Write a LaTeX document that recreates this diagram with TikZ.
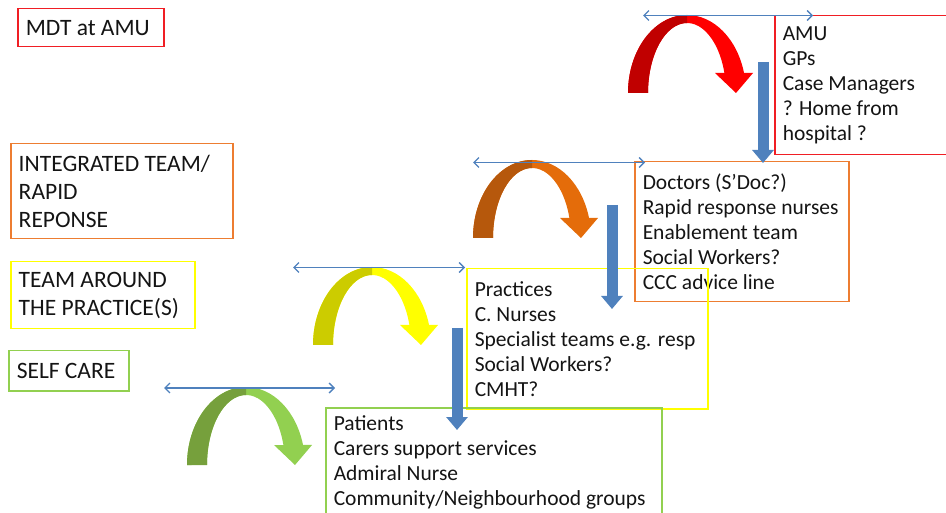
\documentclass[tikz,border=0pt]{standalone}
\usepackage{fontspec}
\setmainfont{Carlito}
\usetikzlibrary{arrows.meta}
\definecolor{tierred}{RGB}{240,30,36}
\definecolor{tierorange}{RGB}{237,125,49}
\definecolor{tieryellow}{RGB}{255,255,0}
\definecolor{tiergreen}{RGB}{146,208,80}
\definecolor{swoopred}{RGB}{192,0,0}
\definecolor{swoopredlt}{RGB}{255,0,0}
\definecolor{swooporange}{RGB}{182,88,12}
\definecolor{swooporangelt}{RGB}{228,108,10}
\definecolor{swoopyellow}{RGB}{204,204,0}
\definecolor{swoopyellowlt}{RGB}{255,255,0}
\definecolor{swoopgreen}{RGB}{118,160,60}
\definecolor{swoopgreenlt}{RGB}{146,208,80}
\definecolor{linkblue}{RGB}{79,129,189}

\begin{document}
\begin{tikzpicture}[
  x=1pt, y=-1pt,
  tier/.style={draw, line width=1.5pt, anchor=north west, align=flush left,
               inner xsep=8pt, inner ysep=0pt, text=black!92,
               font=\fontsize{23.5}{28}\selectfont},
  crew/.style={tier, font=\fontsize{21.5}{25}\selectfont},
  span/.style={{Straight Barb[length=5pt,width=10pt]}-{Straight Barb[length=5pt,width=10pt]},
               line width=1.4pt, linkblue},
  drop/.style={-{Triangle[length=13pt,width=21pt]}, line width=11pt, linkblue},
  pics/swoop/.style 2 args={code={
    % whole arch with its head, then the rising half in the darker tone
    \fill[#2] (0,0) arc[start angle=180, end angle=345.1, x radius=59, y radius=78]
      -- (125,-20) -- (108,0) -- (87,-20) -- (96.4,-20)
      arc[start angle=343.4, end angle=180, x radius=39, y radius=70] -- cycle;
    \fill[#1] (0,0) arc[start angle=180, end angle=270, x radius=59, y radius=78]
      -- (59,-70) arc[start angle=270, end angle=180, x radius=39, y radius=70] -- cycle;
  }}
]
\clip (0,0) rectangle (946,513);

% level titles
\node[tier, draw=tierred,    text width=130pt, minimum height=38pt] (mdt)   at (17,8)   {MDT at AMU};
\node[tier, draw=tierorange, text width=206pt, minimum height=95pt] (integ) at (10,143)  {INTEGRATED TEAM/\\RAPID\\REPONSE};
\node[tier, draw=tieryellow, text width=168pt, minimum height=67pt] (tap)   at (10,261)  {TEAM AROUND\\THE PRACTICE(S)};
\node[tier, draw=tiergreen,  text width=104pt, minimum height=40pt] (self)  at (8,350)   {SELF CARE};

% who is involved at each level
\node[crew, draw=tierred,    text width=176pt, minimum height=139pt] (amu)   at (774,15)  {AMU\\GPs\\Case Managers\\? Home from\\hospital ?};
\node[crew, draw=tierorange, text width=198pt, minimum height=140pt] (rapid) at (634,161) {Doctors (S’Doc?)\\Rapid response nurses\\Enablement team\\Social Workers?\\CCC advice line};
\node[crew, draw=tieryellow, text width=225pt, minimum height=140pt] (prac)  at (466,268) {Practices\\C. Nurses\\Specialist teams e.g. resp\\Social Workers?\\CMHT?};
\node[crew, draw=tiergreen,  text width=320pt, minimum height=110pt] (pat)   at (325,407) {Patients\\Carers support services\\Admiral Nurse\\Community/Neighbourhood groups};

\pic at (628,93)  {swoop={swoopred}{swoopredlt}};
\pic at (473,238) {swoop={swooporange}{swooporangelt}};
\pic at (313,345) {swoop={swoopyellow}{swoopyellowlt}};
\pic at (187,465) {swoop={swoopgreen}{swoopgreenlt}};

\coordinate (s1a) at (643,15.5);  \coordinate (s1b) at (813,15.5);
\coordinate (s2a) at (473,162.5); \coordinate (s2b) at (645,162.5);
\coordinate (s3a) at (293,267.5); \coordinate (s3b) at (465,267.5);
\coordinate (s4a) at (164,388);   \coordinate (s4b) at (335,388);
\draw[span] (s1a) -- (s1b);
\draw[span] (s2a) -- (s2b);
\draw[span] (s3a) -- (s3b);
\draw[span] (s4a) -- (s4b);

\coordinate (d1a) at (763,62);  \coordinate (d1b) at (763,163);
\coordinate (d2a) at (612,205); \coordinate (d2b) at (612,309);
\coordinate (d3a) at (457,328); \coordinate (d3b) at (457,430);
\draw[drop] (d1a) -- (d1b);
\draw[drop] (d2a) -- (d2b);
\draw[drop] (d3a) -- (d3b);
\end{tikzpicture}
\end{document}
